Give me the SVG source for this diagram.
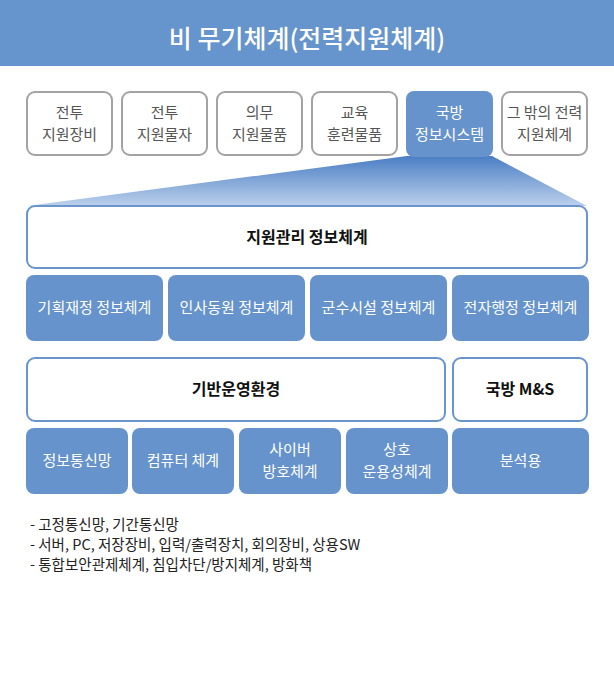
<svg xmlns="http://www.w3.org/2000/svg" width="614" height="679" viewBox="0 0 614 679">
<defs>
<linearGradient id="fan" x1="0" y1="0" x2="0" y2="1">
<stop offset="0" stop-color="#4a7ec3"/>
<stop offset="1" stop-color="#bcd0ec"/>
</linearGradient>
<style>
text{font-family:"Noto Sans CJK KR","Noto Sans",sans-serif;text-anchor:middle}
.gbox{fill:#fff;stroke:#a3a3a3;stroke-width:2}
.wbox{fill:#fff;stroke:#6a95cc;stroke-width:2}
.bbox{fill:#6693cb}
.gt{font-size:15px;fill:#555}
.wt{font-size:15px;fill:#fff}
.kt{font-size:16px;font-weight:700;fill:#111}
.lt{font-size:14.5px;fill:#222;text-anchor:start}
</style>
</defs>
<rect id="title-bar" x="0" y="0" width="614" height="66" fill="#6694cc"/>
<text x="307" y="48" font-size="25" font-weight="500" fill="#fff">비 무기체계(전력지원체계)</text>

<g id="connectors">
<polygon points="407,156 492,156 587,206 27,206" fill="url(#fan)"/>
</g>

<g id="n1"><rect class="gbox" x="27" y="92" width="85" height="63" rx="8"/><text class="gt" x="69.5" y="118">전투</text><text class="gt" x="69.5" y="140">지원장비</text></g>
<g id="n2"><rect class="gbox" x="122" y="92" width="85" height="63" rx="8"/><text class="gt" x="164.5" y="118">전투</text><text class="gt" x="164.5" y="140">지원물자</text></g>
<g id="n3"><rect class="gbox" x="217" y="92" width="85" height="63" rx="8"/><text class="gt" x="259.5" y="118">의무</text><text class="gt" x="259.5" y="140">지원물품</text></g>
<g id="n4"><rect class="gbox" x="312" y="92" width="85" height="63" rx="8"/><text class="gt" x="354.5" y="118">교육</text><text class="gt" x="354.5" y="140">훈련물품</text></g>
<g id="n5"><rect class="bbox" x="406" y="91" width="87" height="66" rx="8"/><text class="wt" x="449.5" y="118">국방</text><text class="wt" x="449.5" y="140">정보시스템</text></g>
<g id="n6"><rect class="gbox" x="502" y="92" width="85" height="63" rx="8"/><text class="gt" x="544.5" y="118">그 밖의 전력</text><text class="gt" x="544.5" y="140">지원체계</text></g>

<g id="n7"><rect class="wbox" x="27" y="206" width="560" height="62" rx="8"/><text class="kt" x="307" y="243">지원관리 정보체계</text></g>

<g id="n8"><rect class="bbox" x="26" y="275" width="137" height="66" rx="8"/><text class="wt" x="94.5" y="313">기획재정 정보체계</text></g>
<g id="n9"><rect class="bbox" x="168" y="275" width="137" height="66" rx="8"/><text class="wt" x="236.5" y="313">인사동원 정보체계</text></g>
<g id="n10"><rect class="bbox" x="310" y="275" width="137" height="66" rx="8"/><text class="wt" x="378.5" y="313">군수시설 정보체계</text></g>
<g id="n11"><rect class="bbox" x="452" y="275" width="137" height="66" rx="8"/><text class="wt" x="520.5" y="313">전자행정 정보체계</text></g>

<g id="n12"><rect class="wbox" x="27" y="358" width="418" height="63" rx="8"/><text class="kt" x="236" y="395">기반운영환경</text></g>
<g id="n13"><rect class="wbox" x="453" y="358" width="134" height="63" rx="8"/><text class="kt" x="520" y="395">국방 M&amp;S</text></g>

<g id="n14"><rect class="bbox" x="26" y="428" width="102" height="66" rx="8"/><text class="wt" x="77" y="466">정보통신망</text></g>
<g id="n15"><rect class="bbox" x="132" y="428" width="102" height="66" rx="8"/><text class="wt" x="183" y="466">컴퓨터 체계</text></g>
<g id="n16"><rect class="bbox" x="239" y="428" width="102" height="66" rx="8"/><text class="wt" x="290" y="455">사이버</text><text class="wt" x="290" y="477">방호체계</text></g>
<g id="n17"><rect class="bbox" x="346" y="428" width="102" height="66" rx="8"/><text class="wt" x="397" y="455">상호</text><text class="wt" x="397" y="477">운용성체계</text></g>
<g id="n18"><rect class="bbox" x="452" y="428" width="137" height="66" rx="8"/><text class="wt" x="520.5" y="466">분석용</text></g>

<g id="notes">
<text class="lt" x="30" y="530">- 고정통신망, 기간통신망</text>
<text class="lt" x="30" y="550">- 서버, PC, 저장장비, 입력/출력장치, 회의장비, 상용SW</text>
<text class="lt" x="30" y="570">- 통합보안관제체계, 침입차단/방지체계, 방화책</text>
</g>
</svg>
